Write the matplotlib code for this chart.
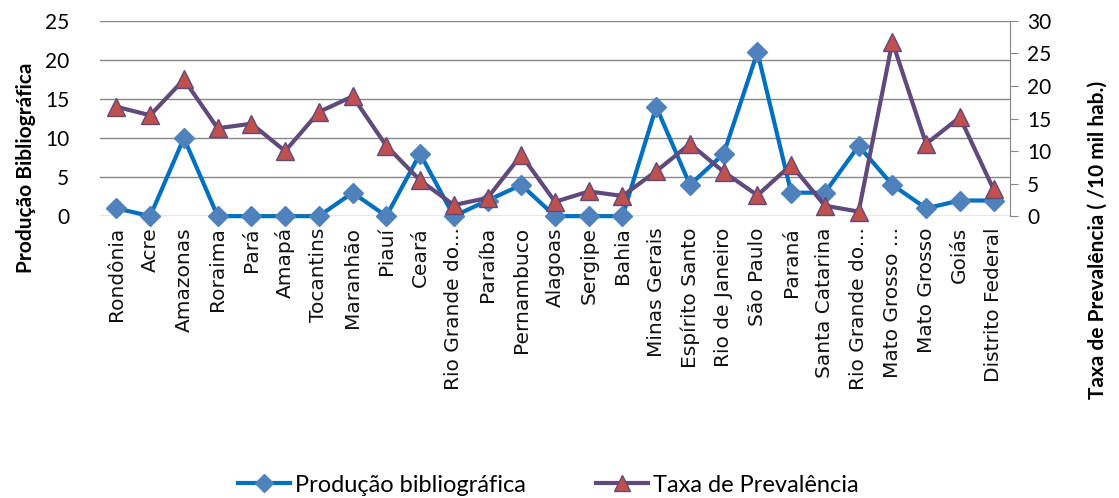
import matplotlib.pyplot as plt
import numpy as np

# --- dados por estado ---
estados = ['Rondônia', 'Acre', 'Amazonas', 'Roraima', 'Pará', 'Amapá', 'Tocantins',
           'Maranhão', 'Piauí', 'Ceará', 'Rio Grande do...', 'Paraíba', 'Pernambuco',
           'Alagoas', 'Sergipe', 'Bahia', 'Minas Gerais', 'Espírito Santo',
           'Rio de Janeiro', 'São Paulo', 'Paraná', 'Santa Catarina',
           'Rio Grande do...', 'Mato Grosso ...', 'Mato Grosso', 'Goiás',
           'Distrito Federal']
producao = [1, 0, 10, 0, 0, 0, 0, 3, 0, 8, 0, 2, 4, 0, 0, 0, 14, 4, 8, 21, 3, 3, 9, 4, 1, 2, 2]
prevalencia = [16.8, 15.5, 21, 13.5, 14.2, 10, 16, 18.4, 10.8, 5.5, 1.7, 2.8, 9.4, 2.2,
               3.8, 3.1, 6.9, 11.1, 6.8, 3.2, 7.9, 1.6, 0.7, 26.8, 11.1, 15.2, 4.1]

AZUL = '#0070C0'
AZUL_MARC = '#4F81BD'
ROXO = '#604A7B'
VERM = '#C0504D'
CINZA = '#868686'

fig = plt.figure(figsize=(11.19, 4.98), dpi=100)
ax = fig.add_axes([0.089, 0.566, 0.814, 0.392])
x = np.arange(len(estados))

ax.plot(x, producao, color=AZUL, lw=3, marker='D', ms=10, mfc=AZUL_MARC, mec=AZUL_MARC,
        clip_on=False, zorder=3, label='Produção bibliográfica')
ax.set_ylim(0, 25)
ax.set_yticks(range(0, 26, 5))
ax.set_xlim(-0.5, len(estados) - 0.5)
ax.grid(axis='y', color=CINZA, lw=1)
ax.set_axisbelow(True)
for s in ['top', 'left', 'right', 'bottom']:
    ax.spines[s].set_visible(False)
ax.tick_params(axis='y', length=0, labelsize=15, pad=22)
for t in ax.get_yticklabels():
    t.set_family('Lato')
ax.set_xticks(x)
ax.set_xticklabels(estados, rotation=90, fontsize=14.5, family='DejaVu Sans', color='#111111')
ax.tick_params(axis='x', length=0, pad=8)
ax.set_ylabel('Produção Bibliográfica', fontsize=15, fontweight='bold', family='Lato')
ax.yaxis.set_label_coords(-0.07, 0.25)

ax2 = ax.twinx()
ax2.plot(x, prevalencia, color=ROXO, lw=3, marker='^', ms=13, mfc=VERM, mec=ROXO, mew=1,
         clip_on=False, zorder=4, label='Taxa de Prevalência')
ax2.set_ylim(0, 30)
ax2.set_yticks(range(0, 31, 5))
for s in ['top', 'left', 'bottom']:
    ax2.spines[s].set_visible(False)
ax2.spines['right'].set_color(CINZA)
ax2.tick_params(axis='y', length=6, color=CINZA, labelsize=15, pad=6)
for t in ax2.get_yticklabels():
    t.set_family('Lato')
ax2.set_ylabel('Taxa de Prevalência ( /10 mil hab.)', fontsize=15, fontweight='bold',
               family='Lato', rotation=90)
ax2.yaxis.set_label_coords(1.085, -0.12)

h1, l1 = ax.get_legend_handles_labels()
h2, l2 = ax2.get_legend_handles_labels()
fig.legend(h1 + h2, l1 + l2, loc='center', bbox_to_anchor=(0.49, 0.026), ncol=2,
           frameon=False, prop={'family': 'Lato', 'size': 17}, handlelength=2.2,
           handletextpad=0.2, columnspacing=3.0, markerscale=0.9)

plt.savefig('out.png', dpi=100)
